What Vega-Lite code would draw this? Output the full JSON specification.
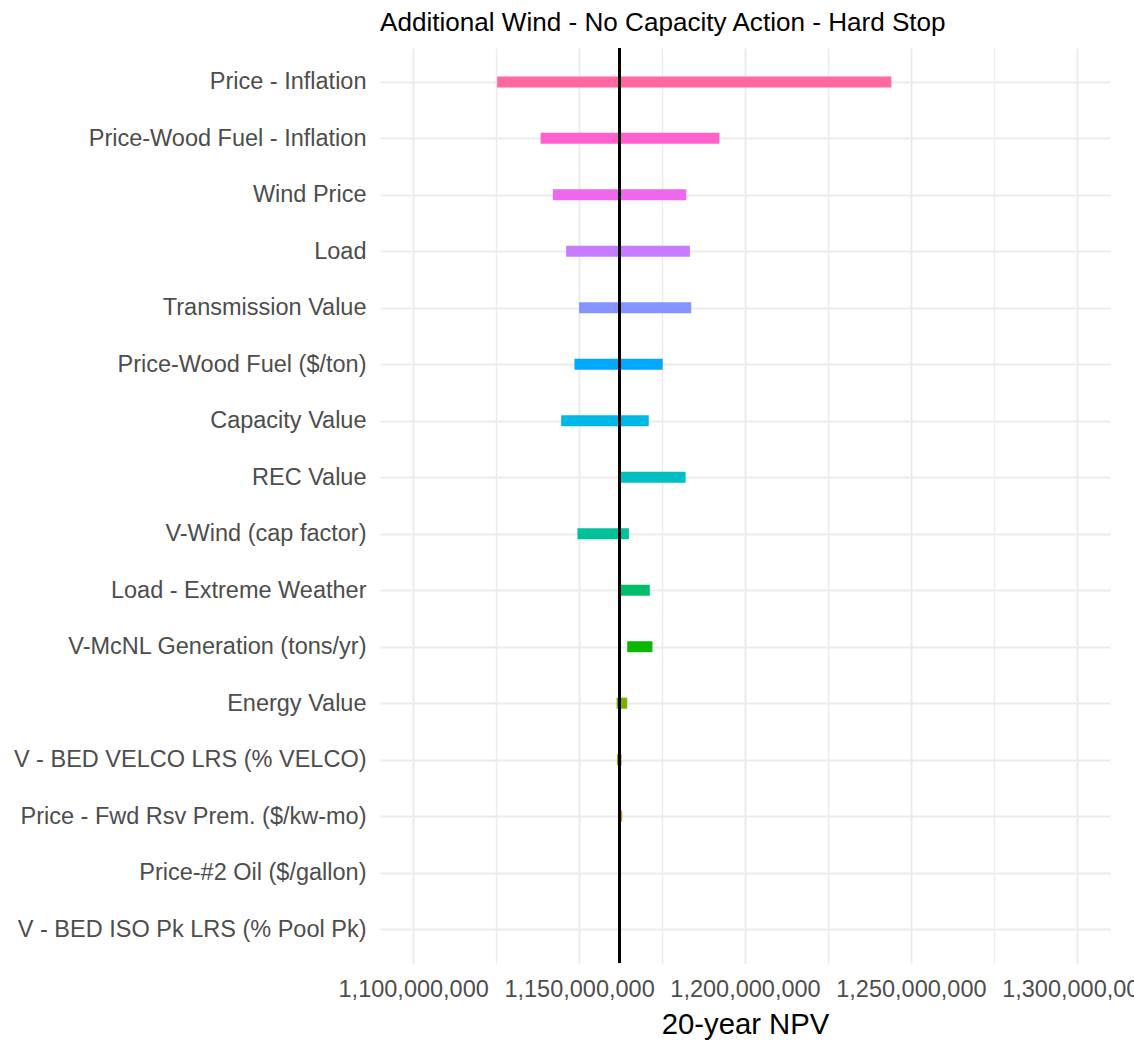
{
  "$schema": "https://vega.github.io/schema/vega-lite/v6.json",
  "width": 730,
  "height": 915,
  "autosize": {"type": "none"},
  "padding": {"left": 380, "top": 48, "right": 24, "bottom": 79},
  "background": "white",
  "title": {
    "text": "Additional Wind - No Capacity Action - Hard Stop",
    "anchor": "start",
    "frame": "group",
    "font": "Liberation Sans",
    "fontSize": 26.1,
    "fontWeight": "normal",
    "color": "black",
    "offset": 11
  },
  "config": {
    "view": {"stroke": null},
    "axis": {"domain": false, "ticks": false, "labelFont": "Liberation Sans", "titleFont": "Liberation Sans"}
  },
  "data": {
    "values": [
      {"variable": "Price - Inflation", "low": 1125300000, "high": 1244100000},
      {"variable": "Price-Wood Fuel - Inflation", "low": 1138400000, "high": 1192300000},
      {"variable": "Wind Price", "low": 1142100000, "high": 1182300000},
      {"variable": "Load", "low": 1146100000, "high": 1183400000},
      {"variable": "Transmission Value", "low": 1150000000, "high": 1183800000},
      {"variable": "Price-Wood Fuel ($/ton)", "low": 1148600000, "high": 1175200000},
      {"variable": "Capacity Value", "low": 1144600000, "high": 1171000000},
      {"variable": "REC Value", "low": 1162200000, "high": 1182100000},
      {"variable": "V-Wind (cap factor)", "low": 1149500000, "high": 1165000000},
      {"variable": "Load - Extreme Weather", "low": 1162200000, "high": 1171300000},
      {"variable": "V-McNL Generation (tons/yr)", "low": 1164500000, "high": 1172100000},
      {"variable": "Energy Value", "low": 1161300000, "high": 1164500000},
      {"variable": "V - BED VELCO LRS (% VELCO)", "low": 1161400000, "high": 1162800000},
      {"variable": "Price - Fwd Rsv Prem. ($/kw-mo)", "low": 1162300000, "high": 1163000000},
      {"variable": "Price-#2 Oil ($/gallon)", "low": 1162200000, "high": 1162200000},
      {"variable": "V - BED ISO Pk LRS (% Pool Pk)", "low": 1162200000, "high": 1162200000}
    ]
  },
  "layer": [
    {
      "mark": {"type": "rule", "strokeWidth": 11, "strokeCap": "butt"},
      "encoding": {
        "y": {
          "field": "variable",
          "type": "nominal",
          "sort": ["Price - Inflation", "Price-Wood Fuel - Inflation", "Wind Price", "Load", "Transmission Value", "Price-Wood Fuel ($/ton)", "Capacity Value", "REC Value", "V-Wind (cap factor)", "Load - Extreme Weather", "V-McNL Generation (tons/yr)", "Energy Value", "V - BED VELCO LRS (% VELCO)", "Price - Fwd Rsv Prem. ($/kw-mo)", "Price-#2 Oil ($/gallon)", "V - BED ISO Pk LRS (% Pool Pk)"],
          "scale": {"type": "point", "padding": 0.6},
          "axis": {
            "title": null,
            "labelFontSize": 23.5,
            "labelColor": "#4D4D4D",
            "labelPadding": 14,
            "labelLimit": 1000,
            "grid": true,
            "gridColor": "#EBEBEB",
            "gridWidth": 2
          }
        },
        "x": {
          "field": "low",
          "type": "quantitative",
          "scale": {"domain": [1090000000, 1310000000], "nice": false, "zero": false},
          "axis": {
            "title": "20-year NPV",
            "titleFontSize": 29.3,
            "titleFontWeight": "normal",
            "titleColor": "black",
            "titlePadding": 10,
            "values": [1100000000, 1125000000, 1150000000, 1175000000, 1200000000, 1225000000, 1250000000, 1275000000, 1300000000],
            "labelExpr": "datum.value % 50000000 === 0 ? format(datum.value, ',') : ''",
            "labelFontSize": 23.5,
            "labelColor": "#4D4D4D",
            "labelPadding": 14,
            "labelOverlap": false,
            "labelFlush": false,
            "grid": true,
            "gridColor": "#EBEBEB",
            "gridWidth": {"condition": {"test": "datum.value % 50000000 === 0", "value": 2}, "value": 1.4}
          }
        },
        "x2": {"field": "high"},
        "color": {
          "field": "variable",
          "type": "nominal",
          "scale": {
            "domain": ["V - BED ISO Pk LRS (% Pool Pk)", "Price-#2 Oil ($/gallon)", "Price - Fwd Rsv Prem. ($/kw-mo)", "V - BED VELCO LRS (% VELCO)", "Energy Value", "V-McNL Generation (tons/yr)", "Load - Extreme Weather", "V-Wind (cap factor)", "REC Value", "Capacity Value", "Price-Wood Fuel ($/ton)", "Transmission Value", "Load", "Wind Price", "Price-Wood Fuel - Inflation", "Price - Inflation"],
            "range": ["#F8766D", "#E68613", "#CD9600", "#ABA300", "#7CAE00", "#0CB702", "#00BE67", "#00C19A", "#00BFC4", "#00B8E7", "#00A9FF", "#8494FF", "#C77CFF", "#ED68ED", "#FF61CC", "#FF68A1"]
          },
          "legend": null
        }
      }
    },
    {
      "mark": {"type": "rule", "color": "black", "strokeWidth": 2.2},
      "encoding": {"x": {"datum": 1162200000}}
    }
  ]
}
